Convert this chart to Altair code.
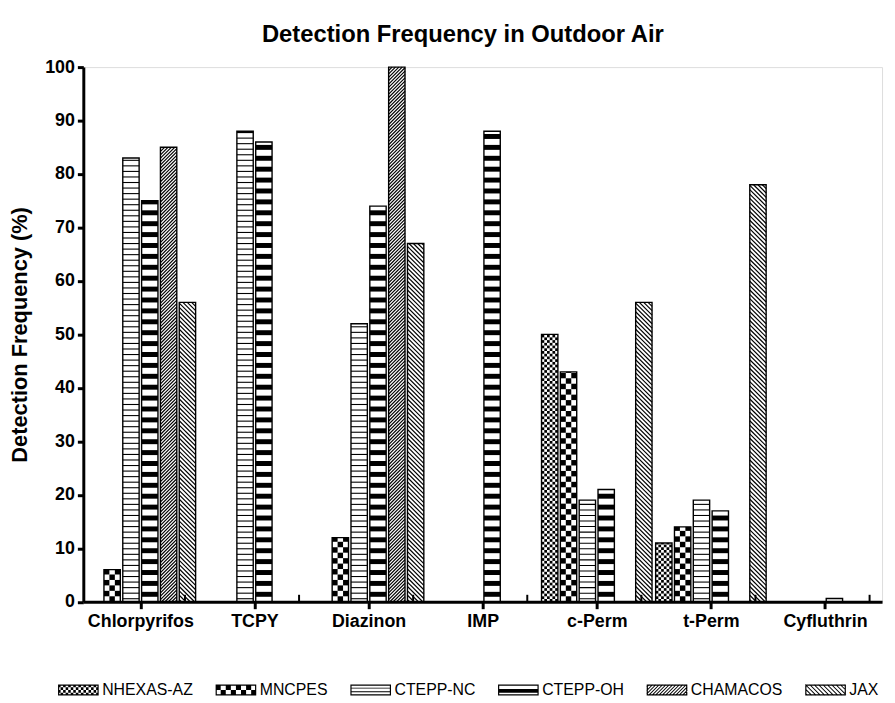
import json
import math
import altair as alt
import pandas as pd

# ---------------- data ----------------
categories = ["Chlorpyrifos", "TCPY", "Diazinon", "IMP", "c-Perm", "t-Perm", "Cyfluthrin"]
series = ["NHEXAS-AZ", "MNCPES", "CTEPP-NC", "CTEPP-OH", "CHAMACOS", "JAX"]
nhexas_az = [None, None, None, None, 50, 11, None]
mncpes = [6, None, 12, None, 43, 14, None]
ctepp_nc = [83, 88, 52, None, 19, 19, None]
ctepp_oh = [75, 86, 74, 88, 21, 17, 0.6]
chamacos = [85, None, 100, None, None, None, None]
jax = [56, None, 67, None, 56, 78, None]
y_ticks = [0, 10, 20, 30, 40, 50, 60, 70, 80, 90, 100]

# ---------------- layout / style ----------------
FONT = "Liberation Sans"
W, H = 806, 539.5
NCAT = len(categories)
PXX = W / NCAT          # px per x unit
PXY = H / 100.0         # px per y unit
SLOT = 19.0             # px per bar slot
BARW = 16.5             # bar width px
MINOR_SHIFT = 45.0      # px, Prism style minor tick offset
SYMBOL_SIZE = 121
R = math.sqrt(SYMBOL_SIZE) / 2.0
SW_W, SW_H = 41.0, 11.0

pattern_of = {
    "NHEXAS-AZ": "fine_checker",
    "MNCPES": "checker",
    "CTEPP-NC": "thin_h",
    "CTEPP-OH": "thick_h",
    "CHAMACOS": "diag_up",
    "JAX": "diag_down",
}
line_width = {"diag_up": 1.2, "diag_down": 1.2}


def diag(w, h, s, spacing):
    segs = []
    if s > 0:
        c = -w + spacing / 2
        while c < h:
            xa, xb = max(0.0, -c), min(w, h - c)
            if xb - xa > 0.05:
                segs.append((xa, xa + c, xb, xb + c))
            c += spacing
    else:
        c = spacing / 2
        while c < w + h:
            xa, xb = max(0.0, c - h), min(w, c)
            if xb - xa > 0.05:
                segs.append((xa, c - xa, xb, c - xb))
            c += spacing
    return segs


def pattern_shapes(kind, w, h, legend=False):
    rects, segs = [], []
    if kind in ("fine_checker", "checker"):
        if kind == "fine_checker":
            ncols = 16 if legend else 6
            ch = h / 4 if legend else 2.75
        else:
            ncols = 8 if legend else 3
            ch = h / 2 if legend else 5.5
        cw = w / ncols
        nrows = math.ceil(h / ch - 1e-9)
        for r in range(nrows):
            for c in range(ncols):
                if (r + c) % 2 == 1:
                    rects.append((c * cw, r * ch, (c + 1) * cw, min(h, (r + 1) * ch)))
    elif kind == "thin_h":
        if legend:
            for f in (1 / 3, 2 / 3):
                rects.append((0, h * f - 0.5, w, h * f + 0.5))
        else:
            y0 = 2.5
            while y0 < h:
                rects.append((0, y0, w, min(h, y0 + 1.1)))
                y0 += 5.6
    elif kind == "thick_h":
        if legend:
            rects.append((0, 0.24 * h, w, 0.59 * h))
        else:
            y0 = 5.0
            while y0 < h:
                rects.append((0, y0, w, min(h, y0 + 5.0)))
                y0 += 11.0
    elif kind == "diag_up":
        segs = diag(w, h, 1, 3.4)
    elif kind == "diag_down":
        segs = diag(w, h, -1, 4.4)
    return rects, segs


# ---------------- build mark tables ----------------
values_by_series = [nhexas_az, mncpes, ctepp_nc, ctepp_oh, chamacos, jax]
bar_rows, pat_rects, up_lines, down_lines = [], [], [], []
for j, (s, vals) in enumerate(zip(series, values_by_series)):
    for i, v in enumerate(vals):
        if v is None:
            continue
        center = (i + 0.5) * PXX + (j - 2.5) * SLOT
        xl = center - BARW / 2
        bar_rows.append(dict(series=s, category=categories[i], value=v,
                             x=xl / PXX, x2=(xl + BARW) / PXX, y=0.0, y2=float(v)))
        kind = pattern_of[s]
        rects, segs = pattern_shapes(kind, BARW, v * PXY)
        for (a, b, c, d) in rects:
            pat_rects.append(dict(x=(xl + a) / PXX, x2=(xl + c) / PXX, y=b / PXY, y2=d / PXY))
        target = up_lines if kind == "diag_up" else down_lines
        for (a, b, c, d) in segs:
            target.append(dict(x=(xl + a) / PXX, x2=(xl + c) / PXX, y=b / PXY, y2=d / PXY))

bars_df = pd.DataFrame(bar_rows)
rects_df = pd.DataFrame(pat_rects)
up_df = pd.DataFrame(up_lines)
down_df = pd.DataFrame(down_lines)
minor_df = pd.DataFrame({"x": [(i + 0.5) + MINOR_SHIFT / PXX for i in range(NCAT)],
                         "y": [0.0] * NCAT, "y2": [1.3] * NCAT})


# ---------------- legend swatches as custom symbol paths ----------------
def signed_area(pts):
    a = 0.0
    for k in range(len(pts)):
        x1, y1 = pts[k]
        x2, y2 = pts[(k + 1) % len(pts)]
        a += x1 * y2 - x2 * y1
    return a / 2


def thick_seg(xa, ya, xb, yb, t):
    dx, dy = xb - xa, yb - ya
    L = math.hypot(dx, dy)
    nx, ny = -dy / L * t / 2, dx / L * t / 2
    return [(xa + nx, ya + ny), (xb + nx, yb + ny), (xb - nx, yb - ny), (xa - nx, ya - ny)]


def swatch_path(kind):
    w, h, ft = SW_W, SW_H, 1.2
    rects, segs = pattern_shapes(kind, w, h, legend=True)
    rects = rects + [(0, 0, w, ft), (0, h - ft, w, h), (0, 0, ft, h), (w - ft, 0, w, h)]
    polys = [[(a, b), (c, b), (c, d), (a, d)] for (a, b, c, d) in rects]
    for (xa, ya, xb, yb) in segs:
        polys.append(thick_seg(xa, ya, xb, yb, 1.0))
    parts = []
    for p in polys:
        pts = [((x - w / 2) / R, (h / 2 - y) / R) for (x, y) in p]
        if signed_area(pts) < 0:
            pts = pts[::-1]
        parts.append("M" + "L".join(f"{x:.3f},{y:.3f}" for x, y in pts) + "Z")
    return "".join(parts)


legend_paths = [swatch_path(pattern_of[s]) for s in series]

# ---------------- encodings ----------------
label_expr = json.dumps(categories) + "[floor(datum.value)]"
x_axis = alt.Axis(values=[i + 0.5 for i in range(NCAT)], labelExpr=label_expr, title=None,
                  grid=False, labelFont=FONT, labelFontSize=18, labelFontWeight="bold",
                  labelColor="black", tickSize=7, tickWidth=3, tickColor="black",
                  domainWidth=3, domainColor="black", labelPadding=4, zindex=1)
y_axis = alt.Axis(values=y_ticks, title="Detection Frequency (%)", grid=False,
                  labelFont=FONT, labelFontSize=18, labelFontWeight="bold",
                  labelColor="black", tickSize=6, tickWidth=3, tickColor="black",
                  domainWidth=3, domainColor="black", labelPadding=3,
                  titleFont=FONT, titleFontSize=22, titleFontWeight="bold",
                  titleColor="black", titlePadding=13, zindex=1)
xs = alt.Scale(domain=[0, NCAT], nice=False, zero=False)
ys = alt.Scale(domain=[0, 100], nice=False)
X = alt.X("x:Q", scale=xs, axis=x_axis)
Y = alt.Y("y:Q", scale=ys, axis=y_axis)

white = alt.Chart(bars_df).mark_rect(fill="white", strokeWidth=0).encode(
    x=X, x2="x2:Q", y=Y, y2="y2:Q")
pats = alt.Chart(rects_df).mark_rect(color="black", strokeWidth=0).encode(
    x=X, x2="x2:Q", y=Y, y2="y2:Q")
ups = alt.Chart(up_df).mark_rule(color="black", strokeWidth=line_width["diag_up"]).encode(
    x=X, x2="x2:Q", y=Y, y2="y2:Q")
downs = alt.Chart(down_df).mark_rule(color="black", strokeWidth=line_width["diag_down"]).encode(
    x=X, x2="x2:Q", y=Y, y2="y2:Q")
outline = alt.Chart(bars_df).mark_rect(fillOpacity=0, stroke="black", strokeWidth=1.4).encode(
    x=X, x2="x2:Q", y=Y, y2="y2:Q")
minor = alt.Chart(minor_df).mark_rule(color="black", strokeWidth=2).encode(
    x=X, y=Y, y2="y2:Q")
legend_layer = alt.Chart(bars_df).transform_filter("datum.value < 0").mark_point(
    filled=True, color="black", size=SYMBOL_SIZE, opacity=1).encode(
    x=X, y=alt.Y("y2:Q", scale=ys, axis=y_axis),
    shape=alt.Shape("series:N", scale=alt.Scale(domain=series, range=legend_paths),
                    legend=alt.Legend(title=None, orient="none", direction="horizontal",
                                      columns=len(series), legendX=-28, legendY=620.5,
                                      symbolSize=SYMBOL_SIZE, symbolStrokeWidth=0,
                                      symbolFillColor="black", symbolOpacity=1,
                                      symbolOffset=15, labelOffset=16,
                                      columnPadding=20, padding=0,
                                      labelFont=FONT, labelFontSize=16,
                                      labelColor="black")))

chart = alt.layer(white, pats, ups, downs, outline, minor, legend_layer).properties(
    width=W, height=H,
    title=alt.TitleParams("Detection Frequency in Outdoor Air", font=FONT, fontSize=24,
                          fontWeight="bold", color="black", anchor="middle",
                          frame="group", offset=11, dx=-20),
    autosize=alt.AutoSizeParams(type="none"),
    padding={"left": 76, "top": 56.5, "right": 5, "bottom": 96},
).configure_view(stroke=None).configure(background="white")

chart.save("out.html", embed_options={"renderer": "svg", "actions": False})
